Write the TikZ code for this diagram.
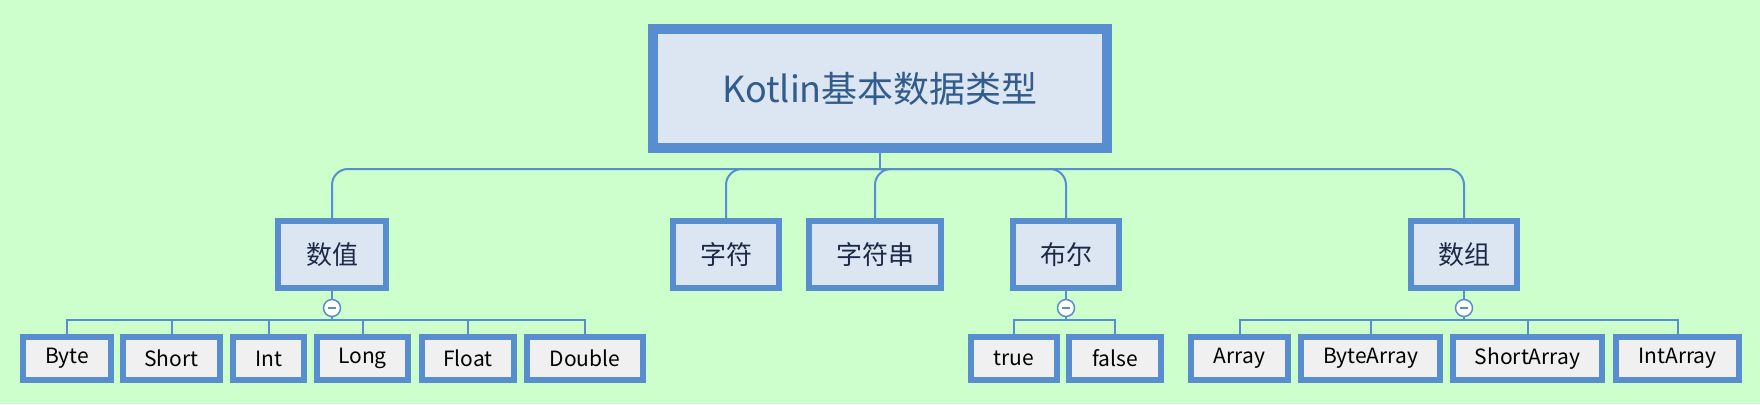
\documentclass[tikz,border=0pt]{standalone}
\usepackage{fontspec}
\setmainfont{Noto Sans CJK SC}
\usetikzlibrary{calc}

\definecolor{bggreen}{RGB}{204,255,204}
\definecolor{edgeblue}{RGB}{88,141,208}
\definecolor{boxfill}{RGB}{220,230,242}
\definecolor{leaffill}{RGB}{240,240,240}
\definecolor{roottext}{RGB}{50,92,140}
\definecolor{midtext}{RGB}{28,42,70}

\begin{document}
\begin{tikzpicture}[x=1pt, y=-1pt,
        rootbox/.style={draw=edgeblue, fill=boxfill, line width=10pt, inner sep=0pt,
            minimum width=454pt, minimum height=119pt, text=roottext, font=\fontsize{36}{40}\selectfont},
        typebox/.style={draw=edgeblue, fill=boxfill, line width=6pt, inner sep=0pt,
            minimum height=67pt, text=midtext, font=\fontsize{26}{30}\selectfont},
        leafbox/.style={draw=edgeblue, fill=leaffill, line width=6pt, inner sep=0pt,
            minimum height=43pt, text=black, font=\fontsize{21}{24}\selectfont},
        link/.style={draw=edgeblue, line width=2pt},
        fold/.style={circle, draw=edgeblue, fill=white, line width=1.5pt, minimum size=17pt, inner sep=0pt,
            path picture={\draw[edgeblue, line width=1.5pt]
                ([xshift=-4pt]path picture bounding box.center) -- ([xshift=4pt]path picture bounding box.center);}}]
        % background
        \path[fill=bggreen] (0,0) rectangle (1760,404);
        \useasboundingbox (0,0) rectangle (1760,404);
        % root
        \node[rootbox] (root) at (880,88.5) {Kotlin基本数据类型};
        \coordinate (bus) at (880,169);
        % types
        \node[typebox, minimum width=108pt] (num) at (332,254.5) {数值};
        \node[typebox, minimum width=106pt] (char) at (726,254.5) {字符};
        \node[typebox, minimum width=132pt] (str) at (875,254.5) {字符串};
        \node[typebox, minimum width=106pt] (bool) at (1066,254.5) {布尔};
        \node[typebox, minimum width=106pt] (arr) at (1464,254.5) {数组};
        % numbers
        \node[leafbox, minimum width=88pt] (byte) at (67,358.5) {Byte};
        \node[leafbox, minimum width=97pt] (short) at (171.5,358.5) {Short};
        \node[leafbox, minimum width=71pt] (int) at (268.5,358.5) {Int};
        \node[leafbox, minimum width=91pt] (long) at (362.5,358.5) {Long};
        \node[leafbox, minimum width=92pt] (float) at (468,358.5) {Float};
        \node[leafbox, minimum width=116pt] (double) at (585,358.5) {Double};
        % booleans
        \node[leafbox, minimum width=86pt] (btrue) at (1014,358.5) {true};
        \node[leafbox, minimum width=92pt] (bfalse) at (1115,358.5) {false};
        % arrays
        \node[leafbox, minimum width=97pt] (array) at (1239.5,358.5) {Array};
        \node[leafbox, minimum width=139pt] (bytearr) at (1370.5,358.5) {ByteArray};
        \node[leafbox, minimum width=149pt] (shortarr) at (1527.5,358.5) {ShortArray};
        \node[leafbox, minimum width=123pt] (intarr) at (1677.5,358.5) {IntArray};
        % root to types
        \path[link] (root.south) -- (bus);
        \foreach \n in {num,char,str,bool,arr}
            \path[link, rounded corners=16pt] (bus) -| (\n.north);
        % types to leaves
        \foreach \p/\c in {num/byte,num/short,num/int,num/long,num/float,num/double,
                bool/btrue,bool/bfalse,arr/array,arr/bytearr,arr/shortarr,arr/intarr}
            \path[link] (\p.south) -- ++(0,29) -| (\c.north);
        % fold marks
        \foreach \p in {num,bool,arr}
            \node[fold] at ($(\p.south)+(0,17)$) {};
    \end{tikzpicture}
\end{document}
